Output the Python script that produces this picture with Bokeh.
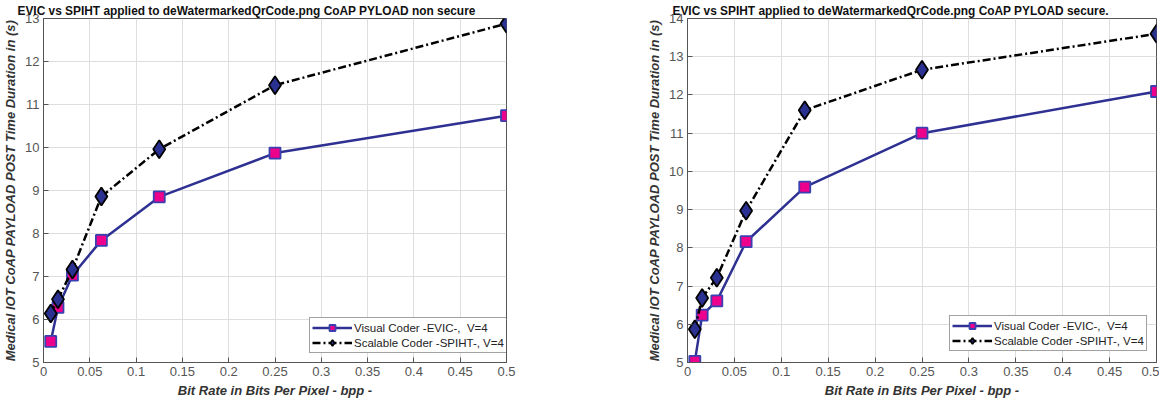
from bokeh.plotting import figure
from bokeh.layouts import row
from bokeh.models import FixedTicker, Legend, LegendItem
from bokeh.embed import file_html
from bokeh.resources import INLINE

# ---- data ----
bpp = [1/128, 1/64, 1/32, 1/16, 1/8, 1/4, 1/2]

evic_nonsecure = [5.49, 6.28, 7.03, 7.84, 8.85, 9.87, 10.74]
spiht_nonsecure = [6.14, 6.47, 7.16, 8.86, 9.96, 11.45, 12.88]

evic_secure = [5.03, 6.24, 6.61, 8.16, 9.59, 11.0, 12.09]
spiht_secure = [5.87, 6.69, 7.22, 8.97, 11.6, 12.66, 13.6]

titles = ["EVIC vs SPIHT applied to deWatermarkedQrCode.png CoAP PYLOAD non secure",
          "EVIC vs SPIHT applied to deWatermarkedQrCode.png CoAP PYLOAD secure."]
x_label = "Bit Rate in Bits Per Pixel - bpp -"
y_label = "Medical IOT CoAP PAYLOAD POST Time Duration in (s)"
legend_labels = ["Visual Coder -EVIC-,  V=4", "Scalable Coder -SPIHT-, V=4"]
x_ticks = [0, 0.05, 0.1, 0.15, 0.2, 0.25, 0.3, 0.35, 0.4, 0.45, 0.5]
x_tick_labels = ["0", "0.05", "0.1", "0.15", "0.2", "0.25", "0.3", "0.35", "0.4", "0.45", "0.5"]

FONT = "Liberation Sans"
BLUE = "#2E3192"
MAGENTA = "#EC008C"
DIAMOND = "#2B3190"


def make(title, evic, spiht, ymax, fw, bl, br, title_offset, leg_loc):
    p = figure(frame_width=fw, frame_height=344, output_backend="svg", toolbar_location=None,
               x_range=(0, 0.5), y_range=(5, ymax),
               min_border_left=bl, min_border_right=br, min_border_top=4, min_border_bottom=44)
    p.title.text = title
    p.title.text_font = FONT
    p.title.text_font_size = "11.9px"
    p.title.text_font_style = "bold"
    p.title.text_color = "#111111"
    p.title.align = "left"
    p.title.offset = title_offset
    p.title.standoff = 2

    for ax in (p.xaxis[0], p.yaxis[0]):
        ax.axis_line_color = "#555555"
        ax.major_tick_line_color = "#555555"
        ax.major_tick_in = 5
        ax.major_tick_out = 0
        ax.minor_tick_line_color = None
        ax.major_label_text_font = FONT
        ax.major_label_text_font_size = "13px"
        ax.major_label_text_color = "#555555"
        ax.axis_label_text_font = FONT
        ax.axis_label_text_font_size = "13px"
        ax.axis_label_text_font_style = "bold italic"
        ax.axis_label_text_color = "#333333"
        ax.major_label_standoff = 4
        ax.axis_label_standoff = 4

    p.xaxis.ticker = FixedTicker(ticks=x_ticks)
    p.xaxis.major_label_overrides = {t: s for t, s in zip(x_ticks, x_tick_labels)}
    p.yaxis.ticker = FixedTicker(ticks=list(range(5, ymax + 1)))
    p.xaxis.axis_label = x_label
    p.yaxis.axis_label = y_label

    p.grid.grid_line_color = "#DEDEDE"
    p.outline_line_color = "#555555"
    p.outline_line_alpha = 1

    l1 = p.line(bpp, evic, line_color=BLUE, line_width=2.5)
    s1 = p.scatter(bpp, evic, marker="square", size=11, fill_color=MAGENTA,
                   line_color="#3A40B0", line_width=1.8)
    l2 = p.line(bpp, spiht, line_color="black", line_width=2.5, line_dash="8 3 2 3")
    s2 = p.scatter(bpp, spiht, marker="diamond", size=18, fill_color=DIAMOND,
                   line_color="black", line_width=1.8)

    legend = Legend(items=[LegendItem(label=legend_labels[0], renderers=[l1, s1]),
                           LegendItem(label=legend_labels[1], renderers=[l2, s2])],
                    location=leg_loc)
    legend.label_text_font = FONT
    legend.label_text_font_size = "11.5px"
    legend.label_text_color = "#222222"
    legend.glyph_width = 40
    legend.glyph_height = 15
    legend.label_height = 15
    legend.spacing = 0
    legend.padding = 2
    legend.margin = 0
    legend.label_standoff = 2
    legend.border_line_color = "#444444"
    legend.background_fill_alpha = 1
    p.add_layout(legend)
    return p


p1 = make(titles[0], evic_nonsecure, spiht_nonsecure, 13, 463, 36, 81, -26, (266, 9))
p2 = make(titles[1], evic_secure, spiht_secure, 14, 469, 100, 3, -15, (262, 11))

layout = row(p1, p2, spacing=0)
open("out.html", "w").write(file_html(layout, INLINE))
